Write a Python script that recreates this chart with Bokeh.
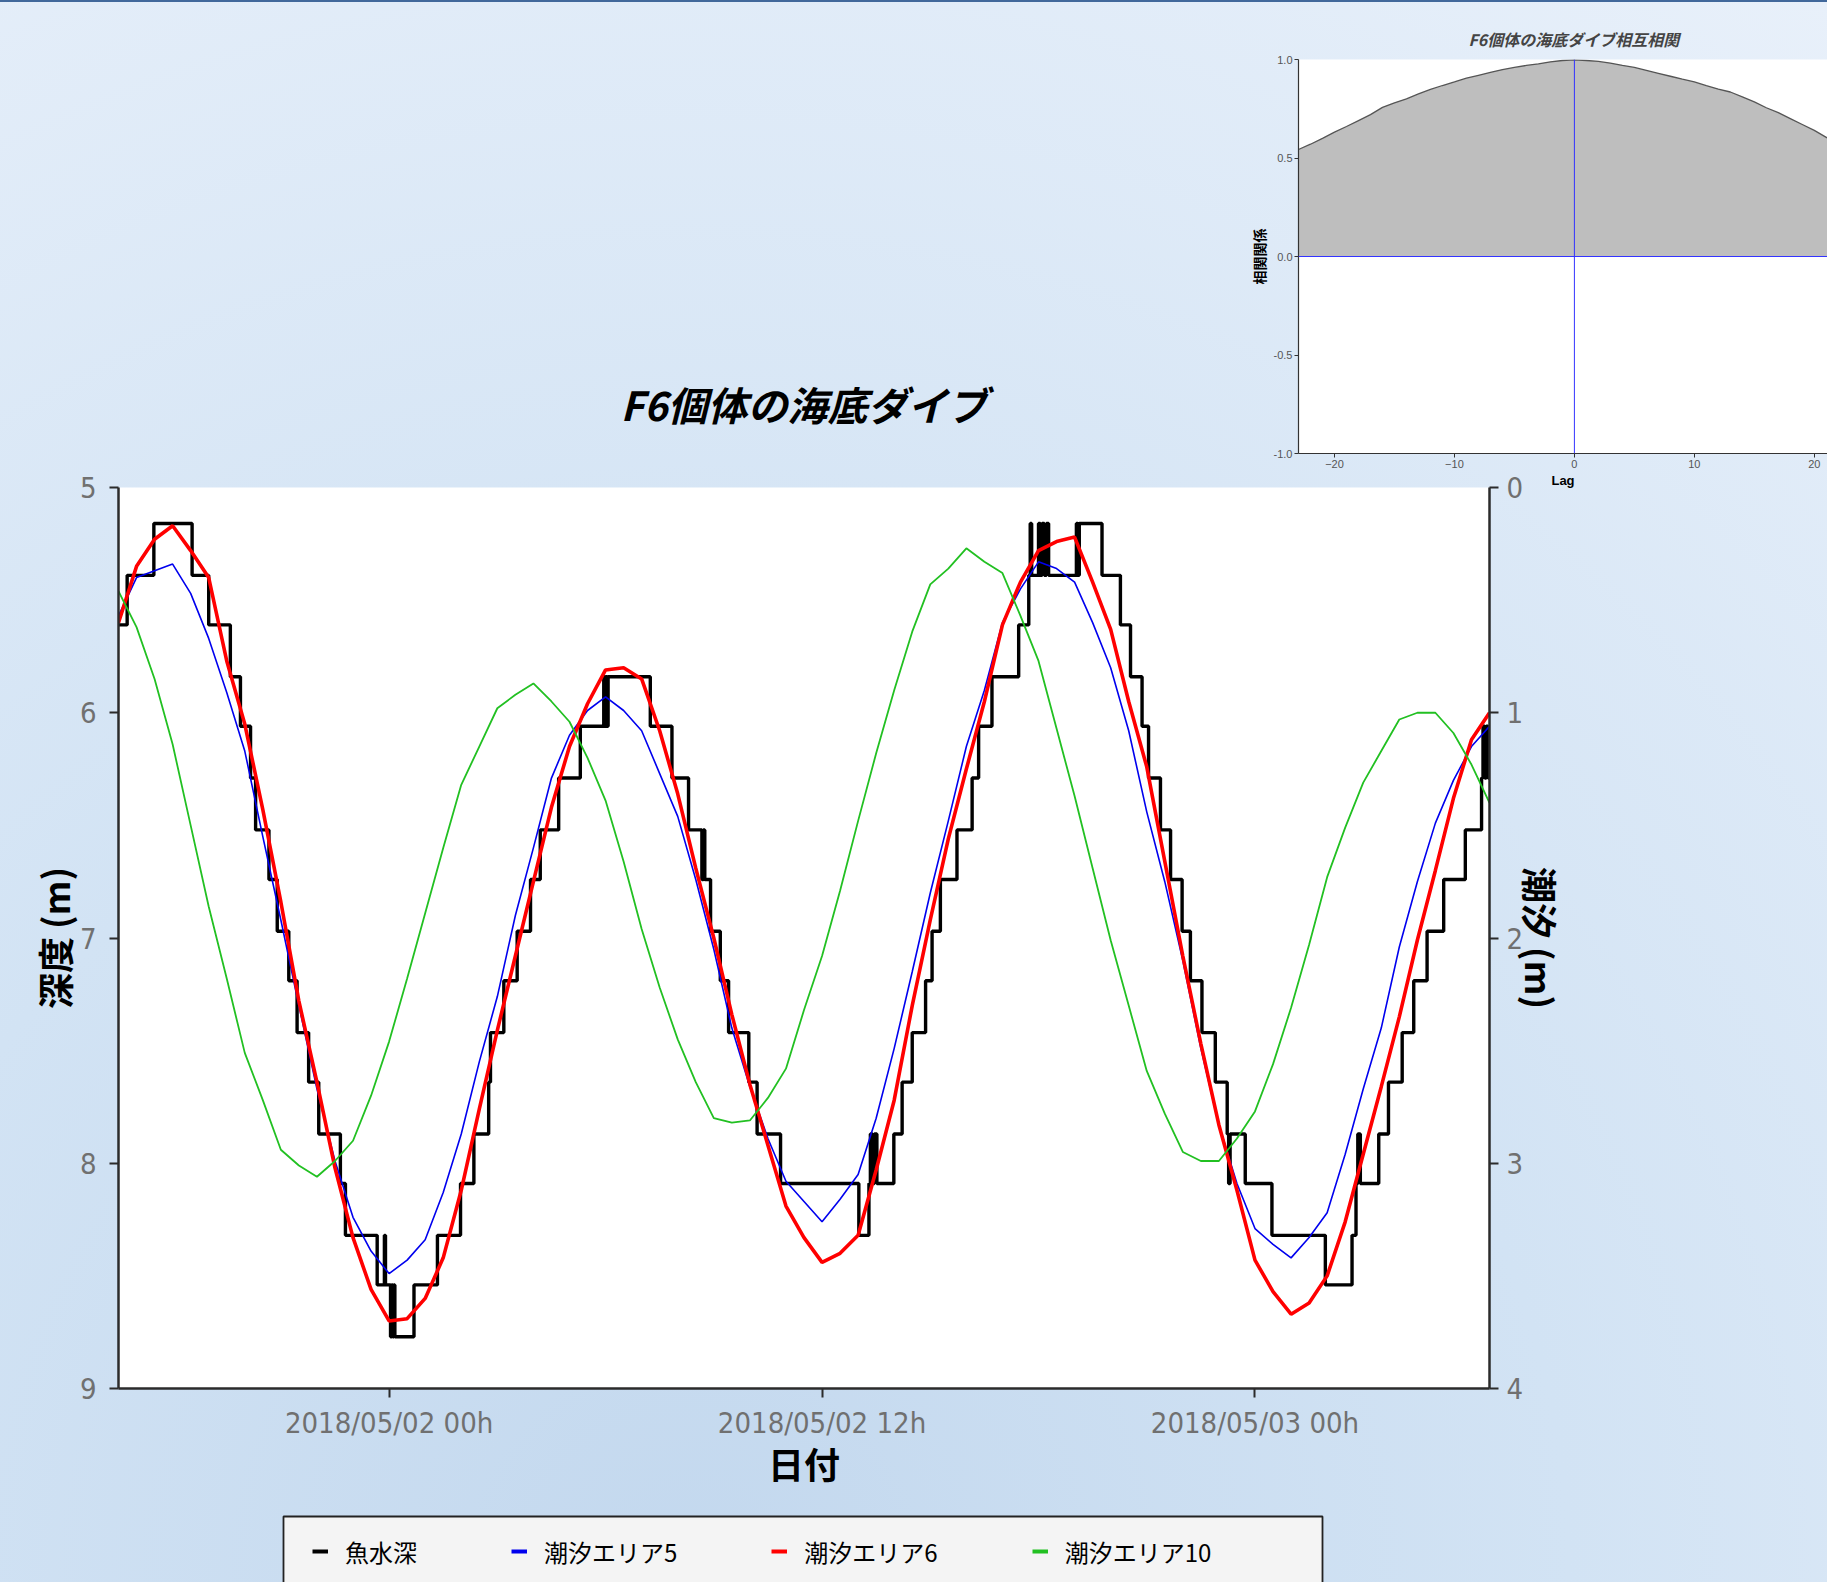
import pandas as pd
from bokeh.plotting import figure
from bokeh.models import (Range1d, LinearAxis, FixedTicker, DatetimeTickFormatter, Legend,
                          LegendItem, Span, PrintfTickFormatter, ColumnDataSource, BoxAnnotation)
from bokeh.embed import file_html
from bokeh.resources import INLINE

# ---------------- data ----------------
START = "2018-05-01 16:30"
END = "2018-05-03 06:30"
x_tick_times = ["2018-05-02 00:00", "2018-05-02 12:00", "2018-05-03 00:00"]
depth_ticks = [5, 6, 7, 8, 9]
tide_ticks = [0, 1, 2, 3, 4]

series_names = ["魚水深", "潮汐エリア5", "潮汐エリア6", "潮汐エリア10"]
series_colors = ["black", "#0000ee", "#ff0000", "#22c022"]

# tide values (m), every 30 minutes from START
tide_area5 = [0.57, 0.40, 0.37, 0.34, 0.47, 0.67, 0.91, 1.17, 1.55, 1.92, 2.30, 2.67, 2.99, 3.24, 3.39,
              3.49, 3.43, 3.34, 3.13, 2.87, 2.55, 2.26, 1.90, 1.60, 1.29, 1.10, 0.99, 0.93, 0.99, 1.08,
              1.27, 1.46, 1.74, 2.05, 2.40, 2.66, 2.89, 3.08, 3.17, 3.26, 3.16, 3.05, 2.80, 2.49, 2.15,
              1.80, 1.48, 1.15, 0.90, 0.60, 0.45, 0.33, 0.36, 0.42, 0.60, 0.80, 1.08, 1.44, 1.75, 2.10,
              2.49, 2.83, 3.09, 3.29, 3.36, 3.42, 3.33, 3.22, 2.96, 2.67, 2.40, 2.04, 1.75, 1.49, 1.30,
              1.15, 1.06]
tide_area6 = [0.60, 0.35, 0.23, 0.17, 0.28, 0.40, 0.77, 1.05, 1.43, 1.84, 2.28, 2.64, 3.02, 3.33, 3.56,
              3.70, 3.69, 3.60, 3.42, 3.12, 2.76, 2.41, 2.08, 1.75, 1.42, 1.15, 0.96, 0.81, 0.80, 0.85,
              1.08, 1.36, 1.69, 2.00, 2.34, 2.65, 2.92, 3.19, 3.33, 3.44, 3.40, 3.32, 3.03, 2.72, 2.30,
              1.92, 1.56, 1.25, 0.95, 0.61, 0.42, 0.28, 0.24, 0.22, 0.42, 0.63, 0.95, 1.24, 1.66, 2.08,
              2.47, 2.83, 3.12, 3.43, 3.57, 3.67, 3.62, 3.50, 3.26, 2.96, 2.66, 2.35, 2.01, 1.70, 1.38,
              1.12, 1.00]
tide_area10 = [0.46, 0.62, 0.85, 1.14, 1.50, 1.86, 2.18, 2.51, 2.72, 2.94, 3.01, 3.06, 2.99, 2.90, 2.70,
               2.46, 2.18, 1.89, 1.60, 1.32, 1.15, 0.98, 0.92, 0.87, 0.95, 1.04, 1.20, 1.39, 1.66, 1.96,
               2.22, 2.45, 2.64, 2.80, 2.82, 2.81, 2.71, 2.58, 2.32, 2.08, 1.79, 1.48, 1.18, 0.90, 0.64,
               0.43, 0.36, 0.27, 0.33, 0.38, 0.57, 0.77, 1.07, 1.37, 1.69, 2.01, 2.30, 2.59, 2.78, 2.95,
               2.99, 2.99, 2.89, 2.77, 2.56, 2.31, 2.03, 1.73, 1.51, 1.31, 1.17, 1.03, 1.00, 1.00, 1.09,
               1.23, 1.40]

# fish depth (m): hours after START at which the logged depth changes, and the new depth
fish_hours = [0.00, 0.24, 0.98, 2.04, 2.50, 3.10, 3.38, 3.66, 3.80, 4.17, 4.40, 4.72, 4.95, 5.27, 5.55,
              6.15, 6.29, 7.17, 7.37, 7.40, 7.54, 7.57, 7.60, 7.63, 7.66, 8.19, 8.84, 9.48, 9.85, 10.26,
              10.31, 10.68, 11.05, 11.42, 11.69, 12.20, 12.80, 13.45, 13.48, 13.51, 13.54, 13.57, 14.74,
              15.34, 15.80, 16.17, 16.21, 16.25, 16.41, 16.68, 16.91, 17.47, 17.70, 18.35, 20.52, 20.80,
              20.84, 20.90, 20.95, 21.02, 21.49, 21.72, 22.00, 22.37, 22.55, 22.78, 23.24, 23.66, 23.84,
              24.21, 24.95, 25.23, 25.27, 25.31, 25.50, 25.55, 25.60, 25.66, 25.72, 25.78, 26.55, 26.59,
              26.63, 27.26, 27.77, 28.05, 28.37, 28.55, 28.88, 29.16, 29.48, 29.71, 30.03, 30.40, 30.73,
              30.77, 30.81, 31.23, 31.97, 33.45, 34.19, 34.30, 34.35, 34.42, 34.93, 35.20, 35.58, 35.90,
              36.27, 36.73, 37.33, 37.78, 37.82, 37.87, 37.91, 37.96, 38.00]
fish_depth = [5.61, 5.39, 5.16, 5.39, 5.61, 5.84, 6.06, 6.29, 6.52, 6.74, 6.97, 7.19, 7.42, 7.64, 7.87,
              8.09, 8.32, 8.54, 8.32, 8.54, 8.77, 8.54, 8.77, 8.54, 8.77, 8.54, 8.32, 8.09, 7.87, 7.64,
              7.42, 7.19, 6.97, 6.74, 6.52, 6.29, 6.06, 5.84, 6.06, 5.84, 6.06, 5.84, 6.06,
              6.29, 6.52, 6.74, 6.52, 6.74, 6.97, 7.19, 7.42, 7.64, 7.87, 8.09, 8.32, 8.09,
              7.87, 8.09, 7.87, 8.09, 7.87, 7.64, 7.42, 7.19, 6.97, 6.74, 6.52, 6.29, 6.06,
              5.84, 5.61, 5.39, 5.16, 5.39, 5.16, 5.39, 5.16, 5.39, 5.16, 5.39, 5.16, 5.39,
              5.16, 5.39, 5.61, 5.84, 6.06, 6.29, 6.52, 6.74, 6.97, 7.19, 7.42, 7.64, 7.87,
              8.09, 7.87, 8.09, 8.32, 8.54, 8.32, 8.09, 7.87, 8.09, 7.87, 7.64, 7.42, 7.19,
              6.97, 6.74, 6.52, 6.29, 6.06, 6.29, 6.06, 6.29, 6.06, 6.29]

# cross-correlation (inset)
ccf_lag = list(range(-23, 24))
ccf_value = [0.543, 0.57, 0.60, 0.631, 0.66, 0.69, 0.72, 0.757, 0.78, 0.80, 0.825, 0.848, 0.868, 0.886,
             0.905, 0.92, 0.935, 0.949, 0.96, 0.97, 0.978, 0.988, 0.995, 0.998, 0.995, 0.99, 0.982,
             0.97, 0.96, 0.945, 0.93, 0.915, 0.90, 0.886, 0.867, 0.85, 0.835, 0.81, 0.785, 0.755,
             0.73, 0.70, 0.67, 0.64, 0.605, 0.57, 0.535]
ccf_yticks = [-1.0, -0.5, 0.0, 0.5, 1.0]
ccf_xticks = [-20, -10, 0, 10, 20]

# ---------------- styling constants ----------------
JP = "Noto Sans CJK JP"
NARROW = "'DejaVu Sans Condensed', 'Liberation Sans', sans-serif"
PAGE_W, PAGE_H = 1827, 1582
FRAME_TOP, FRAME_BOTTOM, FRAME_LEFT, FRAME_RIGHT = 487, 1388, 118, 1489
LEG_TOP = 1496

start_ts = pd.Timestamp(START)
end_ts = pd.Timestamp(END)
tide_time = pd.date_range(start_ts, periods=len(tide_area5), freq="30min")
fish_time = [start_ts + pd.Timedelta(hours=h) for h in fish_hours]
tide_src = ColumnDataSource(dict(time=tide_time, a5=tide_area5, a6=tide_area6, a10=tide_area10))
fish_src = ColumnDataSource(dict(time=fish_time, depth=fish_depth))

# ---------------- main chart ----------------
main = figure(width=PAGE_W, height=PAGE_H, x_axis_type="datetime",
              x_range=Range1d(start_ts, end_ts), y_range=Range1d(9, 5),
              output_backend="svg", toolbar_location=None,
              min_border_left=FRAME_LEFT, min_border_right=PAGE_W - FRAME_RIGHT,
              min_border_top=FRAME_TOP, min_border_bottom=PAGE_H - FRAME_BOTTOM,
              background_fill_color="white", border_fill_color=None, outline_line_color=None,
              styles={"background": "radial-gradient(circle at 38% 100%, #c3d8ee 0%, #d2e3f4 45%, #e8f0fa 100%)",
                      "box-shadow": "inset 0 2px 0 #41689b"})
main.title.text = "F6個体の海底ダイブ"
main.title.align = "center"
main.title.text_font = JP
main.title.text_font_size = "40px"
main.title.text_font_style = "bold italic"
main.title.text_color = "black"
main.title.standoff = 110

main.extra_y_ranges = {"tide": Range1d(4, 0)}
main.add_layout(LinearAxis(y_range_name="tide"), "right")
main.xgrid.grid_line_color = None
main.ygrid.grid_line_color = None

main.xaxis.ticker = FixedTicker(ticks=[pd.Timestamp(t).value // 10**6 for t in x_tick_times])
fmt = "%Y/%m/%d %Hh"
main.xaxis.formatter = DatetimeTickFormatter(microseconds=fmt, milliseconds=fmt, seconds=fmt, minsec=fmt,
                                             minutes=fmt, hourmin=fmt, hours=fmt, days=fmt,
                                             months=fmt, years=fmt)
main.yaxis[0].ticker = FixedTicker(ticks=depth_ticks)
main.yaxis[1].ticker = FixedTicker(ticks=tide_ticks)
main.xaxis.axis_label = "日付"
main.yaxis[0].axis_label = "深度 (m)"
main.yaxis[1].axis_label = "潮汐 (m)"

for ax in main.axis:
    ax.axis_line_color = "#2b2b2b"
    ax.axis_line_width = 2.5
    ax.major_tick_line_color = "#2b2b2b"
    ax.major_tick_line_width = 2
    ax.major_tick_out = 9
    ax.major_tick_in = 0
    ax.minor_tick_line_color = None
    ax.major_label_text_font = NARROW
    ax.major_label_text_font_size = "29px"
    ax.major_label_text_color = "#707070"
    ax.major_label_standoff = 8
    ax.axis_label_text_font = JP
    ax.axis_label_text_font_size = "36px"
    ax.axis_label_text_font_style = "bold"
    ax.axis_label_text_color = "black"
main.xaxis.axis_label_standoff = -6
main.yaxis[0].major_label_standoff = 13
main.yaxis[0].axis_label_standoff = -3
main.yaxis[1].axis_label_standoff = -11

r_fish = main.step("time", "depth", source=fish_src, mode="after", line_color=series_colors[0], line_width=3.4)
r_a5 = main.line("time", "a5", source=tide_src, y_range_name="tide", line_color=series_colors[1], line_width=1.6)
r_a6 = main.line("time", "a6", source=tide_src, y_range_name="tide", line_color=series_colors[2], line_width=3.6)
r_a10 = main.line("time", "a10", source=tide_src, y_range_name="tide", line_color=series_colors[3], line_width=1.8)

# ---------------- legend strip (below the chart, cut by the window edge) ----------------
# this strip's frame uses page-pixel ranges so the legend box can be placed where the reference has it
LEG_FRAME_LEFT, LEG_FRAME_TOP = 280, 1499
LEG_BOX = dict(left=283, right=1322, top=1516, bottom=1640)
legfig = figure(width=PAGE_W, height=PAGE_H - LEG_TOP,
                x_range=Range1d(LEG_FRAME_LEFT, PAGE_W), y_range=Range1d(PAGE_H, LEG_FRAME_TOP),
                output_backend="svg", toolbar_location=None,
                min_border_left=LEG_FRAME_LEFT, min_border_right=0,
                min_border_top=LEG_FRAME_TOP - LEG_TOP, min_border_bottom=0,
                x_axis_location=None, y_axis_location=None,
                background_fill_color=None, border_fill_color=None, outline_line_color=None,
                styles={"position": "absolute", "left": "0px", "top": f"{LEG_TOP}px", "z-index": "2"})
legfig.grid.visible = False
legfig.add_layout(BoxAnnotation(**LEG_BOX, fill_color="#f4f4f4", fill_alpha=1.0,
                                line_color="#222222", line_width=1.8, line_alpha=1.0))
# legend key proxies (no visible data)
proxies = [legfig.line(x=[float("nan")], y=[float("nan")], line_color=c, line_width=4) for c in series_colors]
legend = Legend(items=[LegendItem(label=n, renderers=[r]) for n, r in zip(series_names, proxies)],
                orientation="horizontal", location="top_left",
                padding=13, margin=32, spacing=94, label_standoff=17,
                glyph_width=16, glyph_height=20, label_height=40,
                label_text_font=JP, label_text_font_size="24px", label_text_color="black",
                background_fill_alpha=0.0, border_line_color=None)
legfig.add_layout(legend)

# ---------------- inset (cross-correlation) ----------------
ccf_src = ColumnDataSource(dict(lag=ccf_lag, ccf=ccf_value))
inset = figure(width=587, height=492, x_range=Range1d(-23.0, 21.1), y_range=Range1d(-1, 1),
               output_backend="svg", toolbar_location=None,
               min_border_left=58, min_border_right=0, min_border_top=59, min_border_bottom=39,
               background_fill_color="white", border_fill_color=None, outline_line_color=None,
               styles={"position": "absolute", "left": "1240px", "top": "0px", "z-index": "2"})
inset.grid.visible = False
inset.title.text = "F6個体の海底ダイブ相互相関"
inset.title.text_font = JP
inset.title.text_font_size = "16px"
inset.title.text_font_style = "bold italic"
inset.title.align = "left"
inset.title.offset = 170
inset.title.standoff = 18
inset.varea(x="lag", y1=0, y2="ccf", source=ccf_src, fill_color="#bebebe")
inset.line("lag", "ccf", source=ccf_src, line_color="#555555", line_width=1.3)
inset.add_layout(Span(location=0, dimension="width", line_color="#3333ff", line_width=1))
inset.add_layout(Span(location=0, dimension="height", line_color="#3333ff", line_width=1))
inset.xaxis.ticker = FixedTicker(ticks=ccf_xticks)
inset.yaxis.ticker = FixedTicker(ticks=ccf_yticks)
inset.yaxis.formatter = PrintfTickFormatter(format="%.1f")
inset.xaxis.axis_label = "Lag"
inset.yaxis.axis_label = "相関関係"
for ax in inset.axis:
    ax.axis_line_color = "#333333"
    ax.axis_line_width = 1.2
    ax.major_tick_line_color = "#333333"
    ax.major_tick_out = 4
    ax.major_tick_in = 0
    ax.minor_tick_line_color = None
    ax.major_label_text_font = "Liberation Sans"
    ax.major_label_text_font_size = "11px"
    ax.major_label_text_color = "#555555"
    ax.major_label_standoff = 2
    ax.axis_label_text_font_style = "bold"
    ax.axis_label_text_color = "black"
    ax.axis_label_standoff = 2
inset.xaxis.axis_label_text_font = "Liberation Sans"
inset.xaxis.axis_label_text_font_size = "13px"
inset.yaxis.axis_label_text_font = JP
inset.yaxis.axis_label_text_font_size = "14px"

open("out.html", "w").write(file_html([main, legfig, inset], INLINE))
